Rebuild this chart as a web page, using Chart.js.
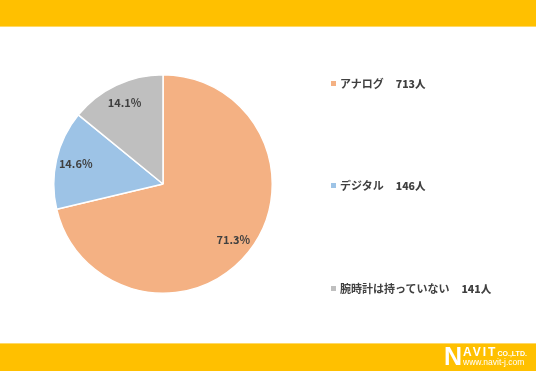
<!DOCTYPE html>
<html>
<head>
<meta charset="utf-8">
<script src="https://cdn.jsdelivr.net/npm/chart.js@4"></script>
<style>
  body { margin: 0; background: #fff; }
  #wrap { position: relative; width: 536px; height: 371px; overflow: hidden; font-family: "Noto Sans CJK JP", sans-serif; }
  .bar { position: absolute; left: 0; width: 536px; background: #FFC000; }
  #top { top: 0; height: 26px; border-bottom: 1px solid #FFD966; }
  #bottom { top: 343px; height: 28px; border-top: 1px solid #FFD966; }
  #chart { position: absolute; left: 0; top: 0; }
  .item { position: absolute; left: 331px; font-size: 11px; font-weight: bold; color: #404040; line-height: 14px; white-space: pre; }
  .item i { display: inline-block; width: 5px; height: 5px; margin-right: 4px; vertical-align: 2px; }
  .item b { margin-left: 12px; font-size: 10.5px; }
  #logo { position: absolute; left: 444px; top: 344px; color: #fff; font-family: "Liberation Sans", sans-serif; }
  #logo .n { position: absolute; left: 0; top: 0; font-size: 25px; font-weight: bold; line-height: 24px; }
  #logo .av { position: absolute; left: 19px; top: 2px; font-size: 12px; font-weight: bold; line-height: 12px; letter-spacing: 2px; white-space: nowrap; }
  #logo .av small { font-size: 7px; letter-spacing: 0; }
  #logo .url { position: absolute; left: 19px; top: 14px; font-size: 8.5px; line-height: 9px; white-space: nowrap; }
</style>
</head>
<body>
<div id="wrap">
  <div class="bar" id="top"></div>
  <div class="bar" id="bottom"></div>
  <canvas id="chart" width="536" height="371"></canvas>
  <div id="legend"></div>
  <div id="logo"><span class="n">N</span><span class="av">AVIT<small>CO.,LTD.</small></span><span class="url">www.navit-j.com</span></div>
</div>
<script>
const labels = ['アナログ', 'デジタル', '腕時計は持っていない'];
const counts = [713, 146, 141];
const colors = ['#F4B183', '#9DC3E6', '#BFBFBF'];
const legendTops = [76, 178, 281];

const total = counts.reduce((a, b) => a + b, 0);

// percentage labels inside each slice
const sliceLabels = {
    id: 'sliceLabels',
    afterDatasetsDraw(chart) {
        const ctx = chart.ctx;
        const meta = chart.getDatasetMeta(0);
        ctx.save();
        ctx.font = 'bold 11px "Noto Sans CJK JP", sans-serif';
        ctx.fillStyle = '#404040';
        ctx.textAlign = 'center';
        ctx.textBaseline = 'middle';
        meta.data.forEach((arc, i) => {
            const mid = (arc.startAngle + arc.endAngle) / 2;
            const r = arc.outerRadius * 0.82;
            const x = arc.x + Math.cos(mid) * r;
            const y = arc.y + Math.sin(mid) * r;
            ctx.fillText((counts[i] / total * 100).toFixed(1) + '%', x, y);
        });
        ctx.restore();
    }
};

new Chart(document.getElementById('chart'), {
    type: 'pie',
    data: {
        labels: labels,
        datasets: [{
            data: counts,
            backgroundColor: colors,
            borderColor: '#ffffff',
            borderWidth: 1.5
        }]
    },
    options: {
        responsive: false,
        animation: false,
        layout: { padding: { left: 53, right: 263, top: 74, bottom: 77 } },
        plugins: {
            legend: { display: false },
            tooltip: { enabled: false }
        }
    },
    plugins: [sliceLabels]
});

// legend built from the same arrays
const legend = document.getElementById('legend');
labels.forEach((name, i) => {
    const div = document.createElement('div');
    div.className = 'item';
    div.style.top = legendTops[i] + 'px';
    div.innerHTML = '<i style="background:' + colors[i] + '"></i>' + name + '<b>' + counts[i] + '人</b>';
    legend.appendChild(div);
});
</script>
</body>
</html>
